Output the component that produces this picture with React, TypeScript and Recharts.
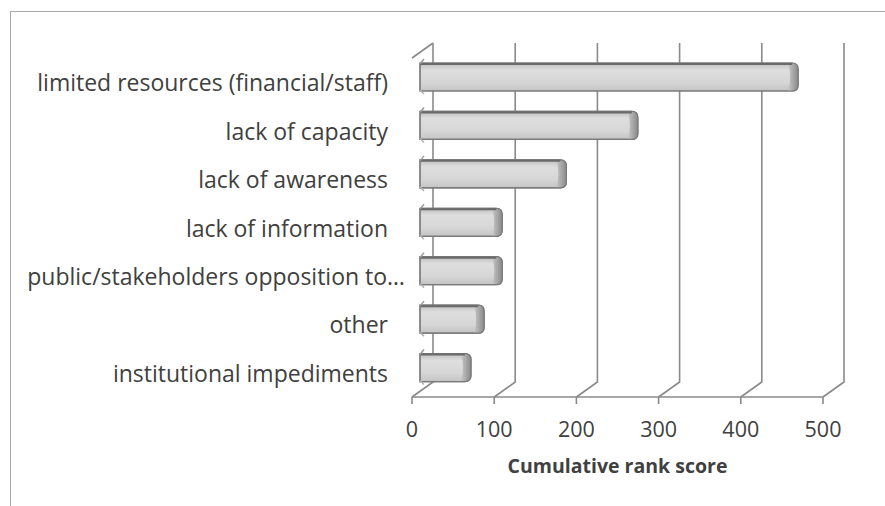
import React from 'react';
import { BarChart, Bar, XAxis, YAxis, CartesianGrid } from 'recharts';

const categories = [
  'limited resources (financial/staff)',
  'lack of capacity',
  'lack of awareness',
  'lack of information',
  'public/stakeholders opposition to…',
  'other',
  'institutional impediments',
];
const scores = [460, 265, 178, 100, 100, 78, 62];
const positions = [0, 1, 2, 3, 4, 5, 6];
const xTicks = [0, 100, 200, 300, 400, 500];
const boundaryTicks = [-0.5, 0.5, 1.5, 2.5, 3.5, 4.5, 5.5, 6.5];
const axisTitle = 'Cumulative rank score';

const data = categories.map((name, i) => ({ name, pos: positions[i], score: scores[i] }));

const DEPTH_X = 21;
const DEPTH_Y = 15;
const BAR_DX = 8;
const BAR_DY = -5;
const GRID = '#8a8a8a';
const TEXT = '#404040';
const FONT = '"Open Sans", Lato, sans-serif';

const GridLine = (props: any) => {
  const { x1, y1, y2, index, x } = props;
  let d = `M${x1 + DEPTH_X},${y1 - DEPTH_Y} L${x1 + DEPTH_X},${y2 - DEPTH_Y} L${x1},${y2}`;
  if (index === 0 || Math.abs(x1 - x) < 0.5) {
    d += ` M${x1},${y1} L${x1 + DEPTH_X},${y1 - DEPTH_Y}`;
  }
  return <path key={props.key} d={d} fill="none" stroke={GRID} strokeWidth={1.6} />;
};

const Bar3D = (props: any) => {
  const { x, y, width, height } = props;
  if (!width || width <= 0) return null;
  const x0 = x + BAR_DX;
  const y0 = y + BAR_DY;
  const x1 = x0 + width;
  const y1 = y0 + height;
  const r = 6;
  const cap = 10;
  const body = `M${x0},${y0} L${x1 - r},${y0} Q${x1},${y0} ${x1},${y0 + r} L${x1},${y1 - r} Q${x1},${y1} ${x1 - r},${y1} L${x0},${y1} Z`;
  const capPath = `M${x1 - cap},${y0} L${x1 - r},${y0} Q${x1},${y0} ${x1},${y0 + r} L${x1},${y1 - r} Q${x1},${y1} ${x1 - r},${y1} L${x1 - cap},${y1} Q${x1 - cap + 4},${(y0 + y1) / 2} ${x1 - cap},${y0} Z`;
  return (
    <g>
      <path d={body} fill="url(#barFace)" stroke="#7a7a7a" strokeWidth={1.2} />
      <path d={capPath} fill="url(#barCap)" stroke="none" />
      <path d={body} fill="none" stroke="#7a7a7a" strokeWidth={1.2} />
      <line x1={x0} y1={y0 + 1} x2={x1 - r} y2={y0 + 1} stroke="#6a6a6a" strokeWidth={2} />
      <path d={`M${x0 + 4},${y0 - 4} L${x0},${y0 + 1}`} stroke="#9a9a9a" strokeWidth={1.5} fill="none" />
      <path d={`M${x0 + 4},${y1 + 3} L${x0},${y1 - 1}`} stroke="#b0b0b0" strokeWidth={1.5} fill="none" />
    </g>
  );
};

const CategoryTick = (props: any) => {
  const { x, y, payload } = props;
  const label = categories[payload.value];
  // truncated labels overflow into the tick-mark gap, as in the original
  const gap = label.endsWith('…') ? 7 : 24;
  return (
    <text x={x - gap} y={y} dy={9} textAnchor="end" fill={TEXT} fontSize={23} fontFamily={FONT}>
      {label}
    </text>
  );
};

const ValueTick = (props: any) => {
  const { x, y, payload } = props;
  return (
    <text x={x} y={y} dy={15} textAnchor="middle" fill={TEXT} fontSize={21.5} fontFamily={FONT}>
      {payload.value}
    </text>
  );
};

export default function App() {
  return (
    <div style={{ position: 'absolute', left: 0, top: 0, width: 885, height: 506, background: '#fff' }}>
      <div
        style={{
          position: 'absolute',
          left: 10,
          top: 11,
          width: 875,
          height: 495,
          borderLeft: '1px solid #a8a8a8',
          borderTop: '1px solid #a8a8a8',
        }}
      />
      <BarChart
        width={885}
        height={506}
        data={data}
        layout="vertical"
        margin={{ top: 58, right: 62, bottom: 29, left: 0 }}
      >
        <defs>
          <linearGradient id="barFace" x1="0" y1="0" x2="0" y2="1">
            <stop offset="0%" stopColor="#bdbdbd" />
            <stop offset="25%" stopColor="#dedede" />
            <stop offset="70%" stopColor="#d6d6d6" />
            <stop offset="100%" stopColor="#c4c4c4" />
          </linearGradient>
          <linearGradient id="barCap" x1="0" y1="0" x2="1" y2="0">
            <stop offset="0%" stopColor="#c6c6c6" />
            <stop offset="100%" stopColor="#8a8a8a" />
          </linearGradient>
        </defs>
        <CartesianGrid horizontal={false} vertical={GridLine} stroke={GRID} />
        <XAxis
          type="number"
          dataKey="score"
          domain={[0, 500]}
          ticks={xTicks}
          interval={0}
          height={80}
          tickSize={7}
          tickMargin={18}
          stroke={GRID}
          axisLine={{ stroke: GRID, strokeWidth: 1.6 }}
          tickLine={{ stroke: GRID, strokeWidth: 1.6 }}
          tick={<ValueTick />}
          label={{
            value: axisTitle,
            position: 'insideBottom',
            offset: 4,
            fill: TEXT,
            fontSize: 19.5,
            fontWeight: 700,
            fontFamily: FONT,
          }}
        />
        <YAxis
          yAxisId="bounds"
          type="number"
          domain={[-0.5, 6.5]}
          ticks={boundaryTicks}
          interval={0}
          width={0}
          tickSize={7}
          tickFormatter={() => ''}
          axisLine={{ stroke: GRID, strokeWidth: 1.6 }}
          tickLine={{ stroke: GRID, strokeWidth: 1.6 }}
        />
        <YAxis
          yAxisId="cat"
          type="number"
          dataKey="pos"
          domain={[-0.5, 6.5]}
          ticks={positions}
          interval={0}
          width={412}
          axisLine={false}
          tickLine={false}
          tickSize={0}
          tickMargin={0}
          tick={<CategoryTick />}
        />
        <Bar
          dataKey="score"
          yAxisId="cat"
          barSize={28}
          shape={<Bar3D />}
          isAnimationActive={false}
        />
      </BarChart>
    </div>
  );
}
